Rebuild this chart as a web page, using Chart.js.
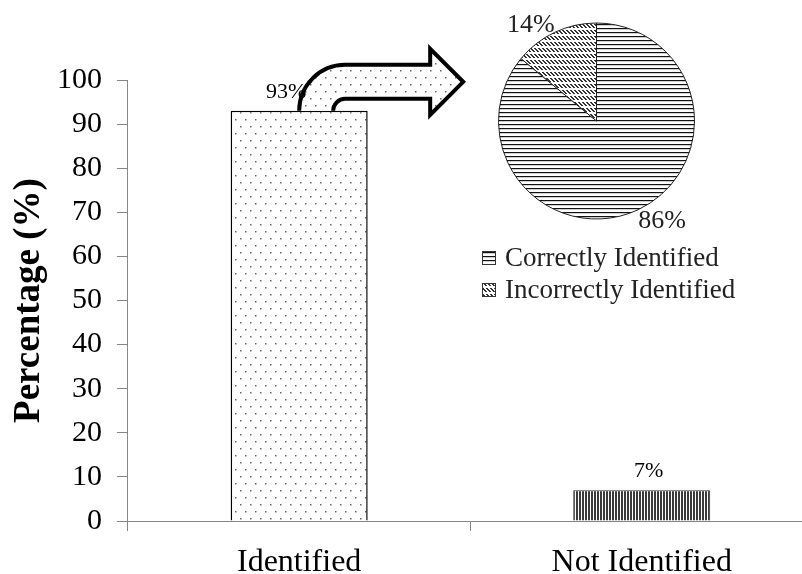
<!DOCTYPE html>
<html>
<head>
<meta charset="utf-8">
<script src="https://cdn.jsdelivr.net/npm/chart.js@4.4.1/dist/chart.umd.min.js"></script>
<style>
  html, body { margin: 0; padding: 0; background: #fff; overflow: hidden; }
  #wrap { position: relative; width: 830px; height: 596px; }
  #barChart { position: absolute; left: 0; top: 0; }
  #pieChart { position: absolute; left: 470px; top: 0; }
</style>
</head>
<body>
<div id="wrap">
  <canvas id="barChart" width="830" height="596"></canvas>
  <canvas id="pieChart" width="300" height="310"></canvas>
</div>
<script>
// bar chart data
const barCategories = ['Identified', 'Not Identified'];
const barValues = [93, 7];
const yTickValues = [0, 10, 20, 30, 40, 50, 60, 70, 80, 90, 100];

// pie (breakdown of the identified bar)
const pieLabels = ['Correctly Identified', 'Incorrectly Identified'];
const pieValues = [86, 14];

const SERIF = '"Liberation Serif", "Times New Roman", serif';
Chart.defaults.font.family = SERIF;
Chart.defaults.color = '#000';

// Build a repeating fill pattern from a small tile
function makePattern(w, h, draw) {
    const c = document.createElement('canvas');
    c.width = w;
    c.height = h;
    const g = c.getContext('2d');
    g.fillStyle = '#fff';
    g.fillRect(0, 0, w, h);
    draw(g);
    return g.createPattern(c, 'repeat');
}

const dotPattern = makePattern(10, 14, g => {
    g.fillStyle = '#666';
    g.fillRect(0, 0, 1.5, 1.5);
    g.fillRect(5, 7, 1.5, 1.5);
});
const vlinePattern = makePattern(3, 1, g => {
    g.fillStyle = '#3a3a3a';
    g.fillRect(0, 0, 2, 1);
});
const hlinePattern = makePattern(1, 4, g => {
    g.fillStyle = '#111';
    g.fillRect(0, 0, 1, 1.2);
});
// short backslash strokes in bands, white line between bands
const diagPattern = makePattern(4, 6, g => {
    g.fillStyle = '#333';
    for (let i = 0; i < 4; i++) {
        g.fillRect(i, i, 1, 1);
        g.fillRect((i + 1) % 4, i, 1, 1);
    }
});

// curved arrow from the top of the first bar towards the pie
const arrowPlugin = {
    id: 'arrow',
    afterDatasetsDraw(chart) {
        const el = chart.getDatasetMeta(0).data[0];
        const ctx = chart.ctx;
        const bx = el.x, by = el.y;
        const R = 46, r = 12, cx = bx + 46;
        const head = bx + 131, tip = bx + 164;
        const midY = by - (R + r) / 2;
        const trace = () => {
            ctx.beginPath();
            ctx.moveTo(bx, by);
            ctx.arc(cx, by, R, Math.PI, 1.5 * Math.PI);
            ctx.lineTo(head, by - R);
            ctx.lineTo(head, midY - 33);
            ctx.lineTo(tip, midY);
            ctx.lineTo(head, midY + 33);
            ctx.lineTo(head, by - r);
            ctx.lineTo(cx, by - r);
            ctx.arc(cx, by, r, 1.5 * Math.PI, Math.PI, true);
        };
        ctx.save();
        trace();
        ctx.closePath();
        ctx.fillStyle = dotPattern;
        ctx.fill();
        trace();
        ctx.lineWidth = 4;
        ctx.lineJoin = 'miter';
        ctx.strokeStyle = '#000';
        ctx.stroke();
        ctx.restore();
    }
};

// value labels above the bars
const barLabelPlugin = {
    id: 'barLabels',
    afterDraw(chart, args, opts) {
        const ctx = chart.ctx;
        ctx.save();
        ctx.font = '22px ' + SERIF;
        ctx.fillStyle = '#000';
        ctx.textAlign = 'center';
        ctx.textBaseline = 'alphabetic';
        chart.getDatasetMeta(0).data.forEach((bar, i) => {
            ctx.fillText(barValues[i] + '%', bar.x + opts.shift[i], bar.y - 13);
        });
        ctx.restore();
    }
};

// percentage labels just outside the pie slices, plus the legend underneath
const pieLabelPlugin = {
    id: 'pieLabels',
    afterDatasetsDraw(chart) {
        const ctx = chart.ctx;
        const ds = chart.data.datasets[0];
        ctx.save();
        ctx.font = '26px ' + SERIF;
        ctx.fillStyle = '#222';
        ctx.textBaseline = 'alphabetic';
        chart.getDatasetMeta(0).data.forEach((arc, i) => {
            const mid = (arc.startAngle + arc.endAngle) / 2;
            const px = arc.x + Math.cos(mid) * arc.outerRadius;
            const py = arc.y + Math.sin(mid) * arc.outerRadius;
            ctx.textAlign = px < arc.x ? 'right' : 'left';
            ctx.fillText(pieValues[i] + '%', px, py < arc.y ? py : py + 18);
        });

        // legend
        ctx.font = '27px ' + SERIF;
        ctx.textAlign = 'left';
        ctx.textBaseline = 'middle';
        pieLabels.forEach((label, i) => {
            const y = 258 + i * 32;
            ctx.fillStyle = ds.backgroundColor[i];
            ctx.fillRect(12, y - 7, 14, 14);
            ctx.strokeStyle = '#333';
            ctx.lineWidth = 1;
            ctx.strokeRect(12.5, y - 6.5, 13, 13);
            ctx.fillStyle = '#222';
            ctx.fillText(label, 35, y + 1);
        });
        ctx.restore();
    }
};

new Chart(document.getElementById('barChart'), {
    type: 'bar',
    data: {
        labels: barCategories,
        datasets: [{
            data: barValues,
            backgroundColor: [dotPattern, vlinePattern],
            borderColor: ['#000', '#333'],
            borderWidth: [1.5, 1],
            barPercentage: 0.4,
            categoryPercentage: 1
        }]
    },
    options: {
        responsive: false,
        animation: false,
        layout: { padding: { left: 6, right: 17, top: 80, bottom: 2.6 } },
        plugins: {
            legend: { display: false },
            tooltip: { enabled: false },
            barLabels: { shift: [-13, 7] }
        },
        scales: {
            x: {
                grid: { drawOnChartArea: false, tickLength: 10, color: '#868686', offset: true },
                border: { color: '#868686' },
                ticks: { font: { size: 32 }, color: '#000', padding: 12, maxRotation: 0 }
            },
            y: {
                min: 0,
                max: 100,
                afterBuildTicks: scale => {
                    scale.ticks = yTickValues.map(v => ({ value: v }));
                },
                grid: { drawOnChartArea: false, tickLength: 11, color: '#868686' },
                border: { color: '#868686' },
                ticks: { font: { size: 30 }, color: '#000', padding: 15 },
                title: {
                    display: true,
                    text: 'Percentage (%)',
                    font: { size: 37, weight: 'bold', lineHeight: 0.7 },
                    color: '#000',
                    padding: { top: 10, bottom: 0 }
                }
            }
        }
    },
    plugins: [arrowPlugin, barLabelPlugin]
});

new Chart(document.getElementById('pieChart'), {
    type: 'pie',
    data: {
        labels: pieLabels,
        datasets: [{
            data: pieValues,
            backgroundColor: [hlinePattern, diagPattern],
            borderColor: '#222',
            borderWidth: 1,
            radius: 98
        }]
    },
    options: {
        responsive: false,
        animation: false,
        layout: { padding: { left: 7, right: 54, top: 2.5, bottom: 70.5 } },
        plugins: {
            tooltip: { enabled: false },
            legend: { display: false }
        }
    },
    plugins: [pieLabelPlugin]
});
</script>
</body>
</html>
